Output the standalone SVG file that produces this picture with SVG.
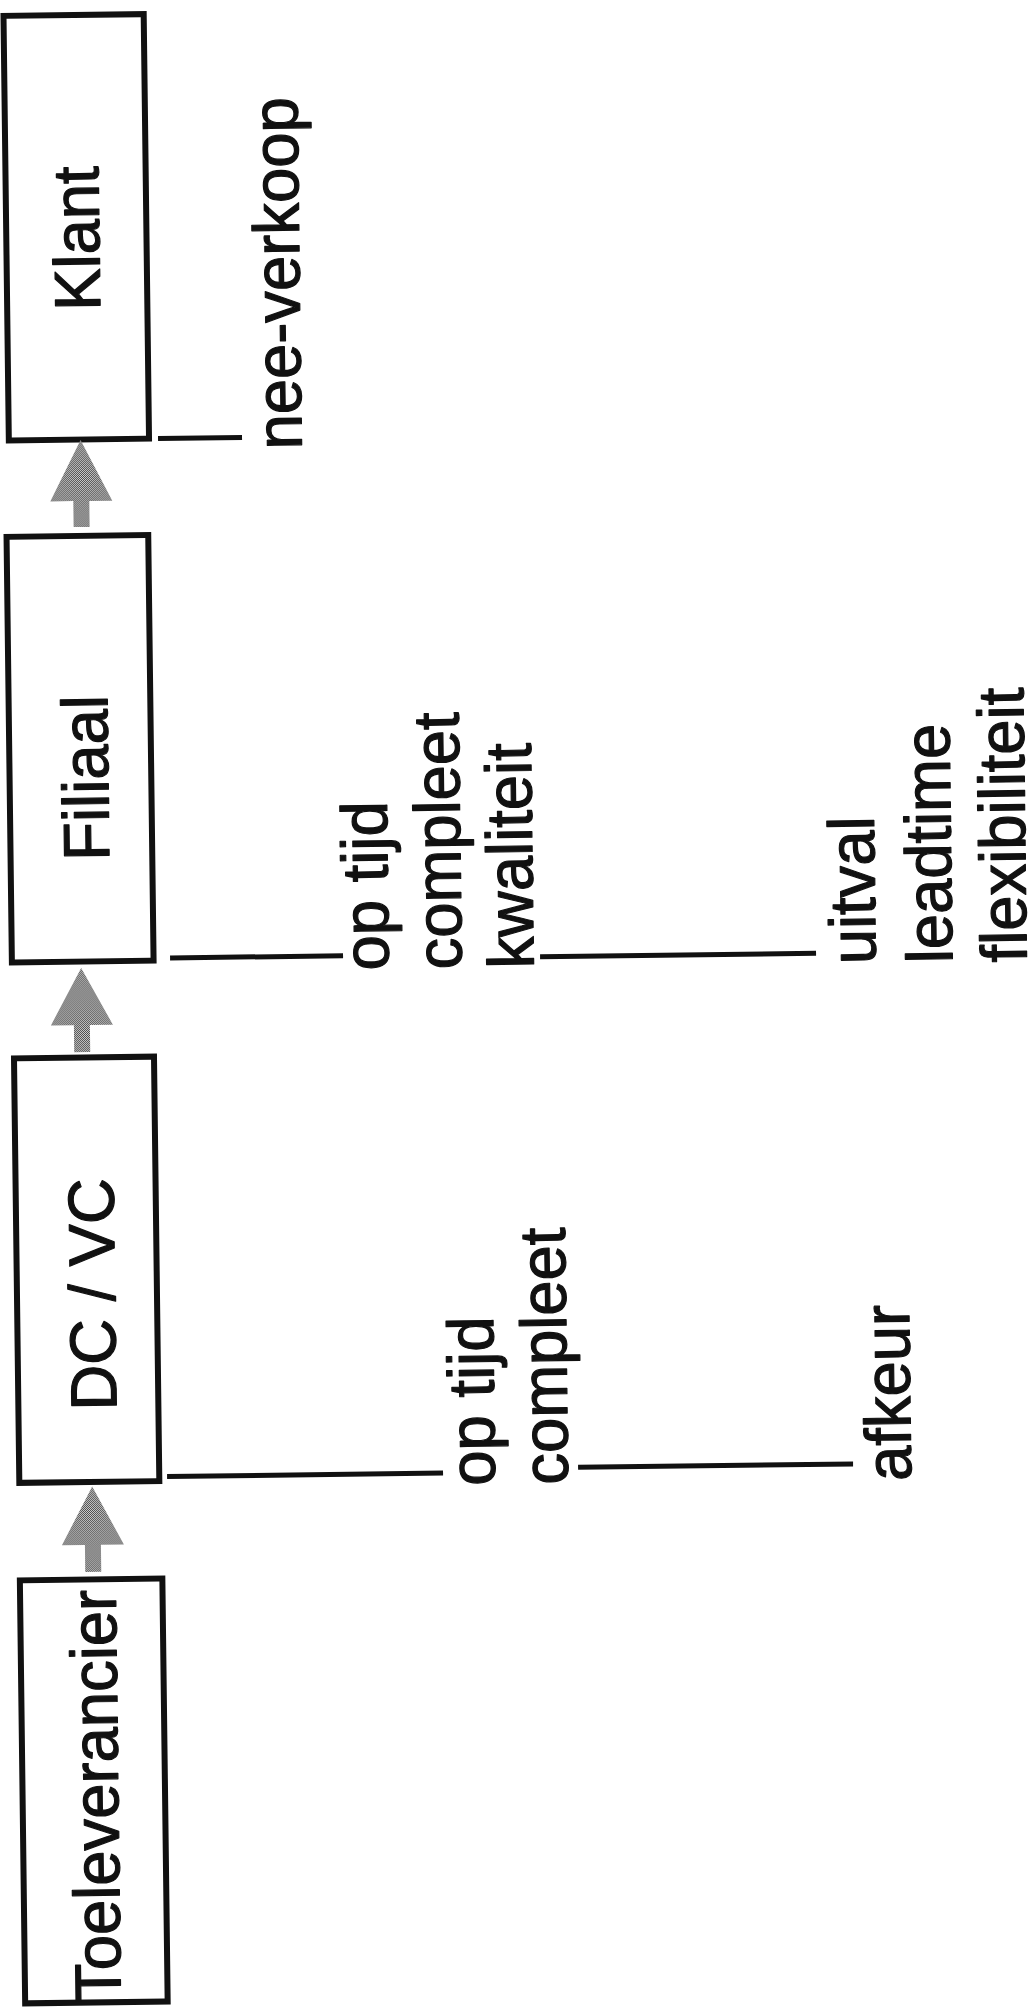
<svg xmlns="http://www.w3.org/2000/svg" width="1029" height="2008" viewBox="0 0 1029 2008">
  <defs>
    <!-- halftone fill used by the flow arrows -->
    <pattern id="halftone" width="2" height="2" patternUnits="userSpaceOnUse">
      <rect width="2" height="2" fill="#cfcfcf"/>
      <rect width="1" height="1" fill="#4a4a4a"/>
      <rect x="1" y="1" width="1" height="1" fill="#4a4a4a"/>
    </pattern>
  </defs>
  <style>
    .box{fill:#fff;stroke:#111;stroke-width:6}
    .label{font-family:"Liberation Sans",Arial,Helvetica,sans-serif;font-size:65px;fill:#111;stroke:#111;stroke-width:1.2;stroke-linejoin:round}
    .mid{text-anchor:middle}
    .lead{stroke:#111;stroke-width:5;fill:none}
    .arrow{fill:url(#halftone)}
  </style>
  <rect width="1029" height="2008" fill="#fff"/>

  <!-- the whole chain sits at a slight tilt -->
  <g transform="rotate(-0.72)">

    <!-- chain nodes, read bottom to top -->
    <g id="node-klant">
      <rect class="box" x="3.3" y="15.9" width="140.2" height="424.6"/>
      <text class="label mid" transform="translate(96.3,239.5) rotate(-90) scale(0.975,1)">Klant</text>
    </g>
    <g id="node-filiaal">
      <rect class="box" x="-0.2" y="536.9" width="141.7" height="425.6"/>
      <text class="label mid" transform="translate(98.5,779) rotate(-90) scale(0.975,1)">Filiaal</text>
    </g>
    <g id="node-dcvc">
      <rect class="box" x="0.7" y="1058.5" width="140" height="424.5"/>
      <text class="label mid" transform="translate(98.7,1295.5) rotate(-90) scale(0.975,1)">DC / VC</text>
    </g>
    <g id="node-toeleverancier">
      <rect class="box" x="0" y="1580.5" width="142.5" height="423"/>
      <text class="label mid" transform="translate(95.7,1797) rotate(-90) scale(0.975,1)">Toeleverancier</text>
    </g>

    <!-- performance indicators per link -->
    <g id="kpi-klant">
      <text class="label" transform="translate(296,453) rotate(-90) scale(0.975,1)">nee-verkoop</text>
    </g>
    <g id="kpi-filiaal">
      <text class="label" transform="translate(376.6,975) rotate(-90) scale(0.975,1)">op tijd</text>
      <text class="label" transform="translate(449.6,975) rotate(-90) scale(0.975,1)">compleet</text>
      <text class="label" transform="translate(521.5,975) rotate(-90) scale(0.975,1)">kwaliteit</text>
    </g>
    <g id="kpi-filiaal-extra">
      <text class="label" transform="translate(863.6,975) rotate(-90) scale(0.975,1)">uitval</text>
      <text class="label" transform="translate(940.2,975) rotate(-90) scale(0.975,1)">leadtime</text>
      <text class="label" transform="translate(1014.5,975) rotate(-90) scale(0.975,1)">flexibiliteit</text>
    </g>
    <g id="kpi-dcvc">
      <text class="label" transform="translate(476.4,1491.5) rotate(-90) scale(0.975,1)">op tijd</text>
      <text class="label" transform="translate(549.4,1491.5) rotate(-90) scale(0.975,1)">compleet</text>
    </g>
    <g id="kpi-dcvc-extra">
      <text class="label" transform="translate(892.5,1492) rotate(-90) scale(0.975,1)">afkeur</text>
    </g>

    <!-- flow arrows and leader lines -->
    <g id="connectors">
      <path class="arrow" d="M75,441 L106,502 L83,502 L83,528 L67,528 L67,502 L44,502 Z"/>
      <path class="arrow" d="M69,969 L100,1026 L77,1026 L77,1053 L61,1053 L61,1026 L38,1026 Z"/>
      <path class="arrow" d="M73.5,1487.5 L104.5,1546 L81.5,1546 L81.5,1573 L65.5,1573 L65.5,1546 L42.5,1546 Z"/>

      <line class="lead" x1="152.5" y1="440.5" x2="236.5" y2="440.5"/>
      <line class="lead" x1="158" y1="960" x2="331" y2="960"/>
      <line class="lead" x1="528" y1="963.5" x2="804" y2="963.5"/>
      <line class="lead" x1="148.5" y1="1478.5" x2="424.5" y2="1478.5"/>
      <line class="lead" x1="559.6" y1="1474.5" x2="834.6" y2="1474.5"/>
    </g>
  </g>
</svg>
